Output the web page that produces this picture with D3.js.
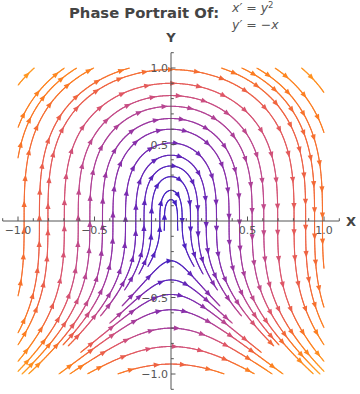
<!DOCTYPE html>
<html><head><meta charset="utf-8">
<script src="https://cdn.jsdelivr.net/npm/d3@7"></script>
<style>html,body{margin:0;padding:0;background:#fff;}svg{display:block;}</style>
</head><body>
<svg id="chart" width="360" height="394"></svg>
<script>
// ---- data ----
const titleText = "Phase Portrait Of:";
const eqLines = ["x′ = y", "y′ = −x"];
const xTickLabels = [-1.0, -0.5, 0.5, 1.0];
const yTickLabels = [-1.0, -0.5, 0.5, 1.0];
const minorTicks = [-1.1,-1.0,-0.9,-0.8,-0.7,-0.6,-0.5,-0.4,-0.3,-0.2,-0.1,0.1,0.2,0.3,0.4,0.5,0.6,0.7,0.8,0.9,1.0,1.1];
const axisDomain = [-1.1, 1.1];
const streamDomain = [-1, 1];
// streamlines of x' = y^2, y' = -x : seed points (in drawing order)
const seedX = [0,0,0,0,0,0,0,0,0,0,0,0,
               0,0,0,0,0,0,0,
               -0.96,-0.86,0.88,0.99,
               -0.954,-0.90,-0.987,0.876,0.725,0.634,0.503,
               0.961];
const seedY = [0.99,0.90,0.82,0.75,0.67,0.60,0.51,0.43,0.36,0.29,0.20,0.14,
               -0.935,-0.82,-0.70,-0.58,-0.48,-0.385,-0.26,
               0,0,0,0,
               0.941,0.80,0.477,0.98,0.967,0.948,0.98,
               -0.203];
// speed -> colour stops
const speedStops = [0, 0.15, 0.3, 0.45, 0.6, 0.75, 0.9, 1.05, 1.3, 1.45];
const colorStops = ["#3b1fc4","#5a25bc","#7b2bb0","#9d379f","#c04a8c","#de5668","#f0643e","#fb7a22","#ff9420","#ffad2e"];

const svg = d3.select("#chart");
const x = d3.scaleLinear().domain(axisDomain).range([2.7, 339.3]);
const y = d3.scaleLinear().domain(axisDomain).range([389.3, 52.7]);
const col = d3.scaleLinear().domain(speedStops).range(colorStops).interpolate(d3.interpolateRgb).clamp(true);

const field = (px, py) => [py*py, -px];
const dTest = 4.5; // px: a stream stops when it comes this close to a drawn one
const cell = 6;
const grid = new Map();
const key = (gx, gy) => gx + "," + gy;
function near(px, py) {
  const gx = Math.floor(px/cell), gy = Math.floor(py/cell);
  for (let i = -1; i <= 1; i++) for (let j = -1; j <= 1; j++) {
    const arr = grid.get(key(gx+i, gy+j));
    if (!arr) continue;
    for (const p of arr) if (Math.hypot(p[0]-px, p[1]-py) < dTest) return true;
  }
  return false;
}
function addPts(pts) {
  pts.forEach(p => {
    const px = x(p[0]), py = y(p[1]);
    const k = key(Math.floor(px/cell), Math.floor(py/cell));
    if (!grid.has(k)) grid.set(k, []);
    grid.get(k).push([px, py]);
  });
}
function integrate(x0, y0, dir) {
  const pts = [[x0,y0]];
  let cx = x0, cy = y0;
  const h = 0.003 * dir;
  const f = (a,b) => { const v = field(a,b); const s = Math.hypot(v[0],v[1]) || 1e-9; return [v[0]/s, v[1]/s]; };
  for (let i = 0; i < 3000; i++) {
    const k1 = f(cx,cy);
    const k2 = f(cx+h/2*k1[0], cy+h/2*k1[1]);
    const k3 = f(cx+h/2*k2[0], cy+h/2*k2[1]);
    const k4 = f(cx+h*k3[0], cy+h*k3[1]);
    cx += h/6*(k1[0]+2*k2[0]+2*k3[0]+k4[0]);
    cy += h/6*(k1[1]+2*k2[1]+2*k3[1]+k4[1]);
    if (cx < streamDomain[0] || cx > streamDomain[1] || cy < streamDomain[0] || cy > streamDomain[1]) break;
    if (near(x(cx), y(cy))) break;
    pts.push([cx,cy]);
  }
  return pts;
}
const streams = [];
seedX.forEach((sx,i) => {
  if (near(x(sx), y(seedY[i]))) return;
  const back = integrate(sx, seedY[i], -1).reverse();
  const fwd = integrate(sx, seedY[i], 1);
  const pts = back.concat(fwd.slice(1));
  addPts(pts);
  streams.push(pts);
});

const gStreams = svg.append("g");
streams.forEach(pts => {
  for (let i = 0; i < pts.length-1; i += 2) {
    const j = Math.min(i+2, pts.length-1);
    const mx = (pts[i][0]+pts[j][0])/2, my = (pts[i][1]+pts[j][1])/2;
    gStreams.append("line")
      .attr("x1", x(pts[i][0])).attr("y1", y(pts[i][1]))
      .attr("x2", x(pts[j][0])).attr("y2", y(pts[j][1]))
      .attr("stroke", col(Math.hypot(my*my, mx)))
      .attr("stroke-width", 1.1).attr("stroke-linecap","round");
  }
  let acc = 12;
  for (let i = 1; i < pts.length; i++) {
    const dx = x(pts[i][0]) - x(pts[i-1][0]), dy = y(pts[i][1]) - y(pts[i-1][1]);
    acc += Math.hypot(dx, dy);
    if (acc >= 26 && i < pts.length - 4) {
      acc = 0;
      const px = x(pts[i][0]), py = y(pts[i][1]);
      const ang = Math.atan2(dy, dx) * 180 / Math.PI;
      gStreams.append("path")
        .attr("d", "M3,0 L-3.5,-2.6 L-3.5,2.6 Z")
        .attr("transform", `translate(${px},${py}) rotate(${ang})`)
        .attr("fill", col(Math.hypot(pts[i][1]*pts[i][1], pts[i][0])));
    }
  }
});

// axes
const axisColor = "#555";
const gAx = svg.append("g");
gAx.append("line").attr("x1", x(axisDomain[0])).attr("x2", x(axisDomain[1])).attr("y1", y(0)).attr("y2", y(0)).attr("stroke", axisColor).attr("stroke-width", 1);
gAx.append("line").attr("y1", y(axisDomain[0])).attr("y2", y(axisDomain[1])).attr("x1", x(0)).attr("x2", x(0)).attr("stroke", axisColor).attr("stroke-width", 1);
minorTicks.forEach(t => {
  const major = Math.abs(Math.round(t*2) - t*2) < 1e-6;
  const len = major ? 4.5 : 2.8;
  gAx.append("line").attr("x1", x(t)).attr("x2", x(t)).attr("y1", y(0)).attr("y2", y(0)-len).attr("stroke", axisColor);
  gAx.append("line").attr("y1", y(t)).attr("y2", y(t)).attr("x1", x(0)).attr("x2", x(0)+len).attr("stroke", axisColor);
});
const fmt = d3.format(".1f");
const lab = v => fmt(v).replace("-", "−");
xTickLabels.forEach(t => {
  gAx.append("text").attr("x", x(t)).attr("y", y(0)+13).attr("text-anchor","middle")
    .attr("font-family","'DejaVu Sans', sans-serif").attr("font-size", 11).attr("fill", "#555").text(lab(t));
});
yTickLabels.forEach(t => {
  gAx.append("text").attr("x", x(0)-3).attr("y", y(t)+4).attr("text-anchor","end")
    .attr("font-family","'DejaVu Sans', sans-serif").attr("font-size", 11).attr("fill", "#555").text(lab(t));
});
svg.append("text").attr("x", 346).attr("y", y(0)+5).attr("font-family","'DejaVu Sans', sans-serif").attr("font-weight","bold").attr("font-size", 13).attr("fill","#444").text("X");
svg.append("text").attr("x", x(0)).attr("y", 42).attr("text-anchor","middle").attr("font-family","'DejaVu Sans', sans-serif").attr("font-weight","bold").attr("font-size", 13).attr("fill","#444").text("Y");

// title
svg.append("text").attr("x", 69).attr("y", 18).attr("font-family","'DejaVu Sans', sans-serif").attr("font-weight","bold").attr("font-size", 14.8).attr("fill","#444").text(titleText);
const eq1 = svg.append("text").attr("x", 232).attr("y", 12).attr("font-family","'DejaVu Sans', sans-serif").attr("font-style","italic").attr("font-size", 12.5).attr("fill","#555");
eq1.append("tspan").text(eqLines[0]);
eq1.append("tspan").attr("dy", -4).attr("font-size", 8.5).attr("font-style","normal").text("2");
svg.append("text").attr("x", 232).attr("y", 29).attr("font-family","'DejaVu Sans', sans-serif").attr("font-style","italic").attr("font-size", 12.5).attr("fill","#555").text(eqLines[1]);
</script>
</body></html>
